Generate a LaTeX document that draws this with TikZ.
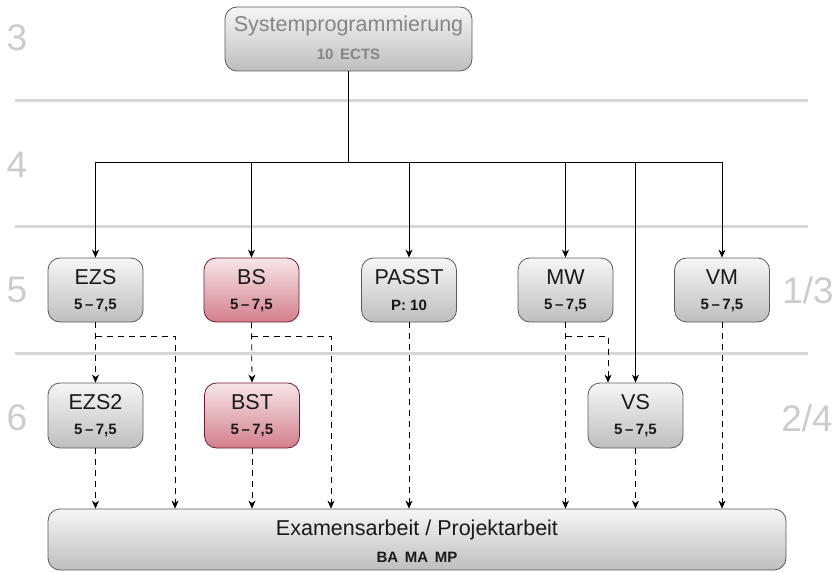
\documentclass[tikz,border=0pt]{standalone}
\usepackage{fontspec}
\setmainfont{Liberation Sans}
\usetikzlibrary{arrows.meta,calc}
\definecolor{lvlc}{HTML}{CCCCCC}
\definecolor{sepc}{HTML}{D6D6D6}
\definecolor{gtop}{HTML}{F6F6F6}
\definecolor{gbot}{HTML}{BEBEBE}
\definecolor{gborder}{HTML}{5A5A5A}
\definecolor{rtop}{HTML}{F7E6E9}
\definecolor{rbot}{HTML}{D37F8B}
\definecolor{rborder}{HTML}{6E1C2C}
\definecolor{toptxt}{HTML}{858585}
\newcommand\modbox[7]{% name, x, y, style, title, sub, textcolor
  \node[#4] (#1) at (#2,#3) {};
  \node[ttl, text=#7] (#1-t) at ($(#1.center)+(0,-13)$) {#5};
  \node[subtxt, text=#7] (#1-s) at ($(#1.center)+(0,15)$) {#6};
}
\begin{document}
\begin{tikzpicture}[x=1pt,y=-1pt,
  graybox/.style={rounded corners=12pt, draw=gborder, line width=0.8pt,
    top color=gtop, bottom color=gbot, minimum width=95pt, minimum height=64pt, inner sep=0pt},
  redbox/.style={graybox, draw=rborder, top color=rtop, bottom color=rbot},
  ttl/.style={font=\fontsize{21.5}{24}\selectfont, inner sep=0pt},
  subtxt/.style={font=\fontsize{15}{17}\selectfont\bfseries, inner sep=0pt},
  lvl/.style={font=\fontsize{37}{40}\selectfont, text=lvlc, inner sep=0pt},
  sepline/.style={draw=sepc, line width=3pt},
  conn/.style={line width=0.8pt, black},
  solidarr/.style={conn, -{Stealth[length=8pt,width=7pt,inset=2.5pt]}},
  dasharr/.style={solidarr, dash pattern=on 6pt off 5pt},
  dashln/.style={conn, dash pattern=on 6pt off 5pt}]
\useasboundingbox (0,0) rectangle (838,572);

% separators
\draw[sepline] (15,101) -- (808,101);
\draw[sepline] (15,227) -- (808,227);
\draw[sepline] (15,353) -- (808,353);

% level labels
\node[lvl] (l3) at (17,38) {3};
\node[lvl] (l4) at (17,165) {4};
\node[lvl] (l5) at (17,290) {5};
\node[lvl] (l6) at (17,418) {6};
\node[lvl] (l13) at (808,290) {1/3};
\node[lvl] (l24) at (807,418) {2/4};

% nodes
\modbox{top}{348.5}{39}{graybox, minimum width=247pt}{Systemprogrammierung}{10\ \,ECTS}{toptxt}
\modbox{ezs}{95.5}{290}{graybox}{EZS}{5\,–\,7,5}{black!90}
\modbox{bs}{251.5}{290}{redbox}{BS}{5\,–\,7,5}{black!90}
\modbox{passt}{409}{290}{graybox}{PASST}{P:\ 10}{black!90}
\modbox{mw}{565.5}{290}{graybox}{MW}{5\,–\,7,5}{black!90}
\modbox{vm}{722}{290}{graybox}{VM}{5\,–\,7,5}{black!90}
\modbox{ezs2}{95.5}{415.5}{graybox, minimum height=65pt}{EZS2}{5\,–\,7,5}{black!90}
\modbox{bst}{252}{415.5}{redbox, minimum height=65pt}{BST}{5\,–\,7,5}{black!90}
\modbox{vs}{635.5}{415.5}{graybox, minimum height=65pt}{VS}{5\,–\,7,5}{black!90}
\node[graybox, minimum width=738pt, minimum height=61pt] (exam) at (417,539.5) {};
\node[ttl, text=black!90] (exam-t) at ($(exam.center)+(0,-10)$) {Examensarbeit / Projektarbeit};
\node[subtxt, text=black!90] (exam-s) at ($(exam.center)+(0,18)$) {BA\ \,MA\ \,MP};

% solid tree
\coordinate (hub) at (348.5,162);
\draw[conn] (top.south) -- (hub);
\draw[conn] (ezs.north |- hub) -- (vm.north |- hub);
\foreach \n in {ezs,bs,passt,mw,vm,vs}
  \draw[solidarr] (\n.north |- hub) -- (\n.north);

% dashed
\coordinate (xa) at (175,0);
\coordinate (xb) at (331,0);
\coordinate (xv) at (608,0);
\coordinate (ezsb) at ($(ezs.south)+(0,14)$);
\coordinate (bsb) at ($(bs.south)+(0,14)$);
\coordinate (mwb) at ($(mw.south)+(0,14)$);
\draw[dasharr] (ezs.south) -- (ezs2.north);
\draw[dasharr] (bs.south) -- (bst.north);
\draw[dasharr] (ezsb) -| (xa |- exam.north);
\draw[dasharr] (bsb) -| (xb |- exam.north);
\draw[dasharr] (mwb) -| (xv |- vs.north);
\foreach \n in {passt,mw,vm,ezs2,bst,vs}
  \draw[dasharr] (\n.south) -- (\n.south |- exam.north);
\end{tikzpicture}
\end{document}
